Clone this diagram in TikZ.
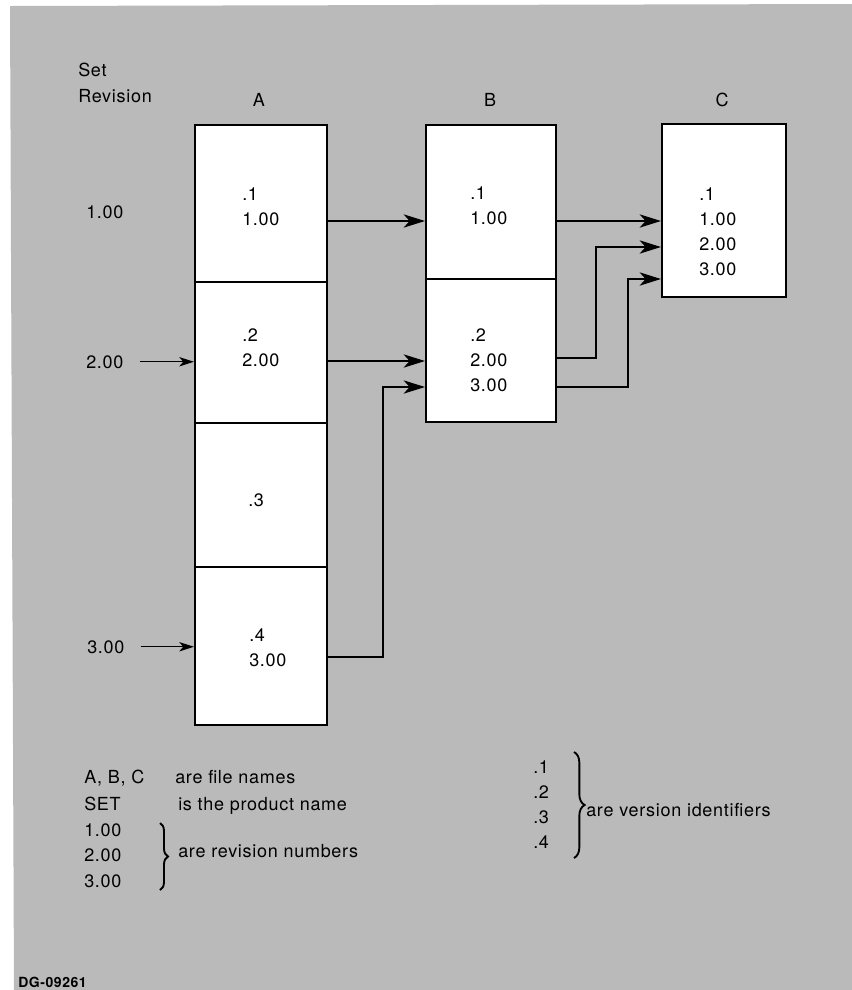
\documentclass[tikz,border=0pt]{standalone}
\usepackage{fontspec}
\setmainfont[LetterSpace=4]{TeX Gyre Heros}
\usetikzlibrary{arrows.meta,decorations.pathreplacing}
\definecolor{bg}{RGB}{186,186,186}
\begin{document}
\begin{tikzpicture}[x=0.75pt,y=-0.75pt,
  txt/.style={inner sep=0pt, font=\fontsize{13.5}{18.6}\selectfont},
  blk/.style={txt, align=left, anchor=north west},
  lab/.style={txt, anchor=base west},
  cell/.style={draw, line width=1.6pt, fill=white, inner sep=0pt},
  cellA/.style={cell, minimum width=99pt},
  cellB/.style={cell, minimum width=97.5pt},
  link/.style={line width=0.9pt},
  arr/.style={link, -{Stealth[length=16pt,width=10pt,inset=4.5pt]}},
  arrs/.style={link, -{Stealth[length=11pt,width=7pt,inset=3pt]}},
  brc/.style={line width=1.4pt, decorate, decoration={brace, amplitude=6pt}}
]
\useasboundingbox (0,0) rectangle (852,990);
\fill[bg] (10,6) -- (852,4) -- (852,990) -- (14,990) -- cycle;

% headings
\node[lab] (set) at (78,76.5) {Set};
\node[lab] (rev) at (78,102.5) {Revision};
\node[txt, anchor=base] (hA) at (259,106.5) {A};
\node[txt, anchor=base] (hB) at (490,106.5) {B};
\node[txt, anchor=base] (hC) at (722,106.5) {C};

% file A
\node[cellA, minimum height=117.75pt] (A1) at (261,203.5) {};
\node[cellA, minimum height=105.75pt] (A2) at (261,352.5) {};
\node[cellA, minimum height=108pt]    (A3) at (261,495) {};
\node[cellA, minimum height=118.5pt]  (A4) at (261,646) {};
% file B
\node[cellB, minimum height=115.5pt]  (B1) at (491,202) {};
\node[cellB, minimum height=107.25pt] (B2) at (491,350.5) {};
% file C
\node[cell, minimum width=93pt, minimum height=129.75pt] (C) at (724,210.5) {};

% cell contents
\node[blk] (tA1) at (242,187.5) {.1\\1.00};
\node[blk] (tA2) at (242,328.5) {.2\\2.00};
\node[lab] (tA3) at (248,506.3) {.3};
\node[blk] (tA4) at (249,628.6) {.4\\3.00};
\node[blk] (tB1) at (470,186.6) {.1\\1.00};
\node[blk] (tB2) at (470,328.6) {.2\\2.00\\3.00};
\node[blk] (tC)  at (699,187.6) {.1\\1.00\\2.00\\3.00};

% revision labels
\node[lab] (L1) at (86,218.5) {1.00};
\node[lab] (L2) at (86,368) {2.00};
\node[lab] (L3) at (87,653) {3.00};

% connectors
\coordinate (y1) at (0,221);
\coordinate (y2) at (0,361);
\coordinate (y3) at (0,657);
\coordinate (y4) at (0,358);
\coordinate (y5) at (0,387);
\coordinate (k1) at (383,387);
\coordinate (k2) at (596,247);
\coordinate (k3) at (628,279);
\draw[arr] (A1.east |- y1) -- (B1.west |- y1);
\draw[arr] (A2.east |- y2) -- (B2.west |- y2);
\draw[arr] (A4.east |- y3) -| (k1) -- (B2.west |- k1);
\draw[arr] (B1.east |- y1) -- (C.west |- y1);
\draw[arr] (B2.east |- y4) -| (k2) -- (C.west |- k2);
\draw[arr] (B2.east |- y5) -| (k3) -- (C.west |- k3);
\draw[arrs, shorten <=12pt] (L2.east) -- (A2.west |- L2.east);
\draw[arrs, shorten <=12pt] (L3.east) -- (A4.west |- L3.east);

% legend
\node[lab] (g1) at (84,783) {A, B, C};
\node[lab] (g1t) at (175,783) {are file names};
\node[lab] (g2) at (84,810) {SET};
\node[lab] (g2t) at (178,810) {is the product name};
\node[lab] (g3) at (84,836) {1.00};
\node[lab] (g4) at (84,861) {2.00};
\node[lab] (g5) at (84,887) {3.00};
\coordinate (b1t) at (160,823);
\coordinate (b1b) at (160,890);
\draw[brc] (b1t) -- (b1b);
\node[lab] (g3t) at (178,857.5) {are revision numbers};

\node[lab] (v1) at (533,773) {.1};
\node[lab] (v2) at (533,798) {.2};
\node[lab] (v3) at (533,823) {.3};
\node[lab] (v4) at (533,848) {.4};
\coordinate (b2t) at (574,752);
\coordinate (b2b) at (574,858);
\draw[brc, decoration={amplitude=8pt}] (b2t) -- (b2b);
\node[lab] (v1t) at (586,816) {are version identifiers};

\node[anchor=base west, inner sep=0pt, font=\fontsize{10.5}{12}\selectfont\bfseries] (dg) at (18,987) {DG-09261};
\end{tikzpicture}
\end{document}
